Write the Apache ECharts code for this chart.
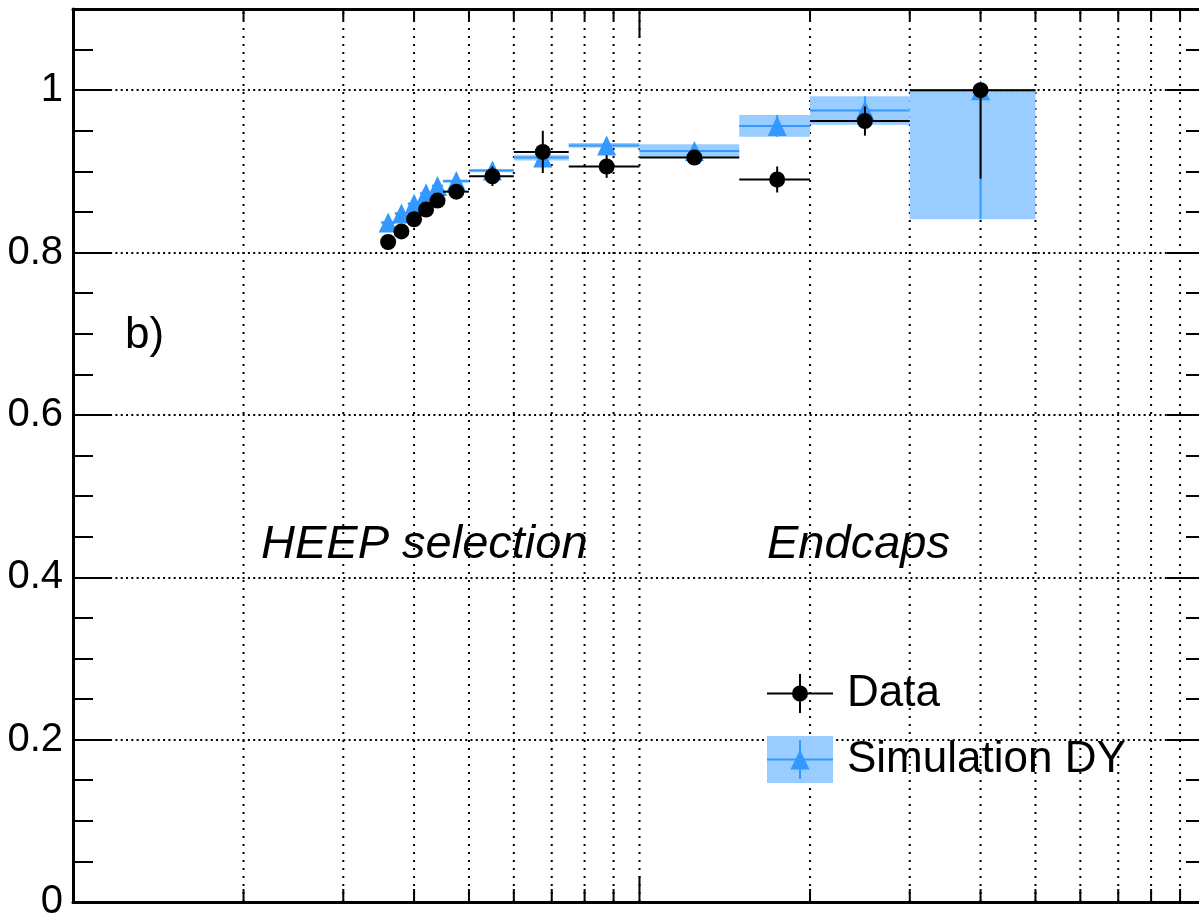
<!DOCTYPE html>
<html>
<head>
<meta charset="utf-8">
<script src="https://cdn.jsdelivr.net/npm/echarts@6/dist/echarts.min.js"></script>
<style>
html, body { margin: 0; padding: 0; background: #fff; }
#chart { width: 1199px; height: 916px; }
</style>
</head>
<body>
<div id="chart"></div>
<script>
// ---- data (efficiency vs E_T, endcaps) ----
const binLo     = [35, 37, 39, 41, 43, 45, 50, 60, 75, 100, 150, 200, 300];
const binHi     = [37, 39, 41, 43, 45, 50, 60, 75, 100, 150, 200, 300, 500];
const binCenter = [36, 38, 40, 42, 44, 47.5, 55, 67.5, 87.5, 125, 175, 250, 400];

const dataEff   = [0.813, 0.826, 0.841, 0.853, 0.864, 0.875, 0.894, 0.924, 0.906, 0.917, 0.890, 0.962, 1.000];
const dataErrLo = [0.004, 0.004, 0.004, 0.005, 0.005, 0.006, 0.012, 0.026, 0.014, 0.008, 0.016, 0.018, 0.109];
const dataErrHi = [0.004, 0.004, 0.004, 0.005, 0.005, 0.006, 0.012, 0.026, 0.014, 0.008, 0.016, 0.018, 0.000];

const mcEff     = [0.837, 0.848, 0.860, 0.873, 0.882, 0.888, 0.901, 0.917, 0.932, 0.925, 0.956, 0.975, 1.000];
const mcErrLo   = [0.002, 0.002, 0.002, 0.002, 0.002, 0.002, 0.002, 0.0035, 0.003, 0.0085, 0.0135, 0.0175, 0.159];
const mcErrHi   = [0.002, 0.002, 0.002, 0.002, 0.002, 0.002, 0.002, 0.0035, 0.003, 0.0085, 0.0135, 0.0175, 0.000];

// ---- axis ticks / grid ----
const xMin = 10, xMax = 1000;
const yMin = 0, yMax = 1.1, yStep = 0.2;
const xMinorTicks = [20, 30, 40, 50, 60, 70, 80, 90, 200, 300, 400, 500, 600, 700, 800, 900];
const xMajorTicks = [100];

const seriesNames = ['Data', 'Simulation DY'];
const annotations = ['b)', 'HEEP selection', 'Endcaps'];

const FONT = "'Liberation Sans', Arial, Helvetica, sans-serif";
const MC_BOX = '#99CCFF';
const MC_LINE = '#3399FF';

const gridRows = xMinorTicks.map(v => [v, 0, 0]).concat(xMajorTicks.map(v => [v, 0, 1]));
const dataRows = binCenter.map((c, i) => [c, dataEff[i], binLo[i], binHi[i], dataErrLo[i], dataErrHi[i]]);
const mcRows   = binCenter.map((c, i) => [c, mcEff[i], binLo[i], binHi[i], mcErrLo[i], mcErrHi[i]]);

function renderGrid(params, api) {
  const x = api.value(0);
  const major = api.value(2) === 1;
  const pb = api.coord([x, yMin]);
  const pt = api.coord([x, yMax]);
  const lb = major ? 26 : 13;
  const lt = major ? 28 : 11;
  return {
    type: 'group',
    children: [
      { type: 'line', shape: { x1: pb[0], y1: pb[1], x2: pt[0], y2: pt[1] },
        style: { stroke: '#000', lineWidth: 2, lineDash: [2, 6] } },
      { type: 'line', shape: { x1: pb[0], y1: pb[1], x2: pb[0], y2: pb[1] - lb },
        style: { stroke: '#000', lineWidth: 2 } },
      { type: 'line', shape: { x1: pt[0], y1: pt[1], x2: pt[0], y2: pt[1] + lt },
        style: { stroke: '#000', lineWidth: 2 } }
    ]
  };
}

function renderMC(params, api) {
  const xc = api.value(0), y = api.value(1), lo = api.value(2), hi = api.value(3);
  const el = api.value(4), eh = api.value(5);
  const pC = api.coord([xc, y]);
  const pL = api.coord([lo, y]);
  const pH = api.coord([hi, y]);
  const pT = api.coord([xc, y + eh]);
  const pB = api.coord([xc, y - el]);
  return {
    type: 'group',
    children: [
      { type: 'rect', shape: { x: pL[0], y: pT[1], width: pH[0] - pL[0], height: Math.max(pB[1] - pT[1], 1) },
        style: { fill: MC_BOX } },
      { type: 'line', shape: { x1: pL[0], y1: pC[1], x2: pH[0], y2: pC[1] },
        style: { stroke: MC_LINE, lineWidth: 2 } },
      { type: 'line', shape: { x1: pC[0], y1: pT[1], x2: pC[0], y2: pB[1] },
        style: { stroke: MC_LINE, lineWidth: 2 } },
      { type: 'polygon', shape: { points: [[pC[0] - 9.5, pC[1] + 10], [pC[0], pC[1] - 10], [pC[0] + 9.5, pC[1] + 10]] },
        style: { fill: MC_LINE } }
    ]
  };
}

function renderData(params, api) {
  const xc = api.value(0), y = api.value(1), lo = api.value(2), hi = api.value(3);
  const el = api.value(4), eh = api.value(5);
  const pC = api.coord([xc, y]);
  const pL = api.coord([lo, y]);
  const pH = api.coord([hi, y]);
  const pT = api.coord([xc, y + eh]);
  const pB = api.coord([xc, y - el]);
  return {
    type: 'group',
    children: [
      { type: 'line', shape: { x1: pL[0], y1: pC[1], x2: pH[0], y2: pC[1] },
        style: { stroke: '#000', lineWidth: 2 } },
      { type: 'line', shape: { x1: pC[0], y1: pT[1], x2: pC[0], y2: pB[1] },
        style: { stroke: '#000', lineWidth: 2 } },
      { type: 'circle', shape: { cx: pC[0], cy: pC[1], r: 8 }, style: { fill: '#000' } }
    ]
  };
}

// legend icon paths (66 x 39 boxes)
const dataIcon = 'path://M0 18.5H66V20.5H0Z M32 0H34V39H32Z M25 19.5A8 8 0 1 1 41 19.5A8 8 0 1 1 25 19.5Z';
const mcIcon = 'path://M0 18.5H66V20.5H0Z M32 0H34V39H32Z M23.5 29.5L33 9.5L42.5 29.5Z';

const yAxisCommon = {
  type: 'value', min: yMin, max: yMax, interval: yStep,
  axisLine: { show: true, lineStyle: { color: '#000', width: 3 } },
  axisTick: { show: true, inside: true, length: 39, lineStyle: { color: '#000', width: 2 } },
  minorTick: { show: true, splitNumber: 4, length: 20, lineStyle: { color: '#000', width: 2 } }
};

const option = {
  backgroundColor: '#fff',
  animation: false,
  grid: { left: 73, top: 9, width: 1133, height: 893, containLabel: false, outerBoundsMode: 'none' },
  xAxis: [
    { type: 'log', logBase: 10, min: xMin, max: xMax, position: 'bottom',
      axisLine: { show: true, onZero: false, lineStyle: { color: '#000', width: 3 } },
      axisTick: { show: false }, axisLabel: { show: false }, splitLine: { show: false } },
    { type: 'log', logBase: 10, min: xMin, max: xMax, position: 'top',
      axisLine: { show: true, onZero: false, lineStyle: { color: '#000', width: 3 } },
      axisTick: { show: false }, axisLabel: { show: false }, splitLine: { show: false } }
  ],
  yAxis: [
    Object.assign({}, yAxisCommon, {
      position: 'left',
      axisLabel: { show: true, showMaxLabel: false, fontSize: 40, fontFamily: FONT, color: '#000', margin: 10 },
      splitLine: { show: true, lineStyle: { color: '#000', width: 2, type: [2, 3.3] } }
    }),
    Object.assign({}, yAxisCommon, {
      position: 'right',
      axisLabel: { show: false },
      splitLine: { show: false }
    })
  ],
  legend: [
    {
      orient: 'vertical', left: 767, top: 670, padding: 0,
      itemWidth: 66, itemHeight: 47, itemGap: 19, symbolKeepAspect: true,
      selectedMode: false,
      textStyle: { fontSize: 44, fontFamily: FONT, color: '#000', lineHeight: 47, padding: [0, 0, 0, 9] },
      data: [
        { name: seriesNames[0], icon: dataIcon, itemStyle: { color: '#000' } },
        { name: seriesNames[1], icon: 'rect', itemStyle: { color: MC_BOX } }
      ]
    },
    {
      orient: 'vertical', left: 767, top: 736, padding: 0,
      itemWidth: 66, itemHeight: 47, symbolKeepAspect: true,
      selectedMode: false,
      textStyle: { fontSize: 44, fontFamily: FONT, color: 'rgba(0,0,0,0)', lineHeight: 47, padding: [0, 0, 0, 9] },
      data: [
        { name: seriesNames[1], icon: mcIcon, itemStyle: { color: MC_LINE } }
      ]
    }
  ],
  graphic: [
    { type: 'text', left: 125, top: 314, silent: true,
      style: { text: annotations[0], font: "44px " + FONT, fill: '#000' } },
    { type: 'text', left: 261, top: 521, silent: true,
      style: { text: annotations[1], font: "italic 47px " + FONT, fill: '#000' } },
    { type: 'text', left: 767, top: 521, silent: true,
      style: { text: annotations[2], font: "italic 47px " + FONT, fill: '#000' } }
  ],
  series: [
    { type: 'custom', name: 'grid', silent: true, z: 1, xAxisIndex: 0, yAxisIndex: 0,
      renderItem: renderGrid, data: gridRows, clip: false },
    { type: 'custom', name: seriesNames[1], z: 2, xAxisIndex: 0, yAxisIndex: 0,
      itemStyle: { color: MC_BOX }, renderItem: renderMC, data: mcRows, clip: false },
    { type: 'custom', name: seriesNames[0], z: 3, xAxisIndex: 0, yAxisIndex: 0,
      itemStyle: { color: '#000' }, renderItem: renderData, data: dataRows, clip: false }
  ]
};

const chart = echarts.init(document.getElementById('chart'), null, { renderer: 'canvas' });
chart.setOption(option);
</script>
</body>
</html>
